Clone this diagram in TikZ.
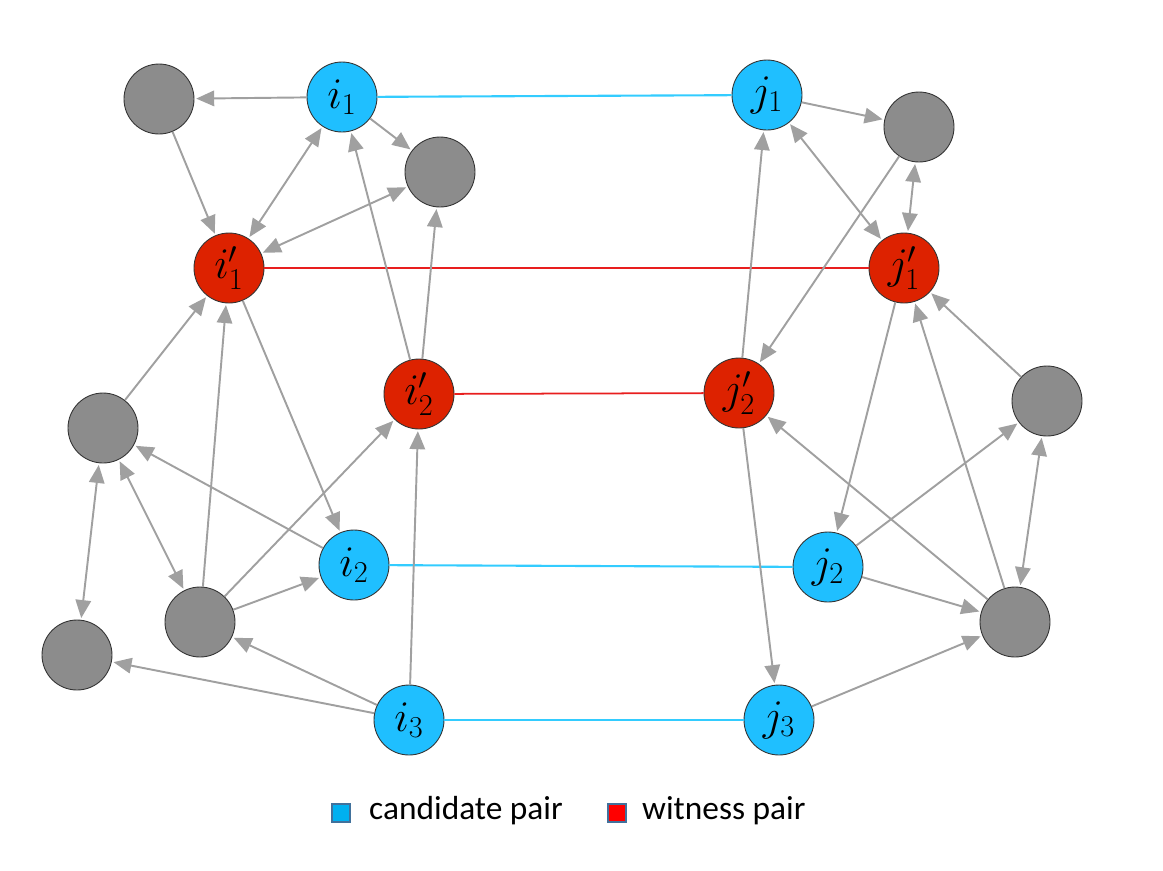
\documentclass[tikz,border=0pt]{standalone}
\usepackage{fontspec}
\setmainfont{Carlito}
\usetikzlibrary{arrows.meta}

\definecolor{candblue}{RGB}{31,191,255}
\definecolor{witred}{RGB}{221,34,0}
\definecolor{othergray}{RGB}{140,140,140}
\definecolor{edgegray}{RGB}{160,160,160}
\definecolor{pairblue}{RGB}{51,204,255}
\definecolor{pairred}{RGB}{232,30,30}
\definecolor{legblue}{RGB}{0,176,240}
\definecolor{legred}{RGB}{255,0,0}
\definecolor{legedge}{RGB}{65,113,156}

\begin{document}
\begin{tikzpicture}[x=0.02cm, y=-0.02cm,
  vert/.style={circle, draw=black!80, line width=0.5pt, minimum size=1.4cm, inner sep=0pt, font=\fontsize{23}{27}\selectfont},
  cand/.style={vert, fill=candblue},
  wit/.style={vert, fill=witred},
  other/.style={vert, fill=othergray},
  link/.style={draw=edgegray, line width=1.1pt, -{Triangle[length=0.36cm, width=0.31cm]}, shorten >=1pt},
  both/.style={link, {Triangle[length=0.36cm, width=0.31cm]}-{Triangle[length=0.36cm, width=0.31cm]}, shorten <=1pt},
  legbox/.style={draw=legedge, line width=1pt, minimum size=0.36cm, inner sep=0pt}]

\useasboundingbox (0, 0) rectangle (1163, 870);

% vertices
\node[cand] (i1) at (342, 97) {$i_1$};
\node[cand] (j1) at (767, 95) {$j_1$};
\node[wit] (i1p) at (229, 268) {$i'_1$};
\node[wit] (j1p) at (904, 268) {$j'_1$};
\node[wit] (i2p) at (419, 394) {$i'_2$};
\node[wit] (j2p) at (739, 393) {$j'_2$};
\node[cand] (i2) at (354, 565) {$i_2$};
\node[cand] (j2) at (828, 567) {$j_2$};
\node[cand] (i3) at (409, 720) {$i_3$};
\node[cand] (j3) at (779, 720) {$j_3$};

\node[other] (a1) at (159, 99) {};
\node[other] (a2) at (440, 172) {};
\node[other] (a3) at (103, 428) {};
\node[other] (a4) at (200, 622) {};
\node[other] (a5) at (77, 655) {};
\node[other] (b1) at (919, 127) {};
\node[other] (b2) at (1047, 401) {};
\node[other] (b3) at (1015, 622) {};

% pairs
\draw[pairblue, line width=1.2pt] (i1) -- (j1);
\draw[pairblue, line width=1.2pt] (i2) -- (j2);
\draw[pairblue, line width=1.2pt] (i3) -- (j3);
\draw[pairred, line width=1pt] (i1p) -- (j1p);
\draw[pairred, line width=1pt] (i2p) -- (j2p);

% left side
\draw[link] (i1) -- (a1);
\draw[link] (i1) -- (a2);
\draw[link] (a1) -- (i1p);
\draw[both] (i1) -- (i1p);
\draw[both] (a2) -- (i1p);
\draw[link] (i2p) -- (i1);
\draw[link] (i2p) -- (a2);
\draw[link] (i1p) -- (i2);
\draw[link] (a3) -- (i1p);
\draw[link] (a4) -- (i1p);
\draw[link] (a4) -- (i2p);
\draw[link] (i2) -- (a3);
\draw[both] (a3) -- (a4);
\draw[both] (a3) -- (a5);
\draw[link] (a4) -- (i2);
\draw[link] (i3) -- (a4);
\draw[link] (i3) -- (a5);
\draw[link] (i3) -- (i2p);

% right side
\draw[link] (j1) -- (b1);
\draw[both] (j1) -- (j1p);
\draw[both] (b1) -- (j1p);
\draw[link] (b1) -- (j2p);
\draw[link] (j2p) -- (j1);
\draw[link] (j1p) -- (j2);
\draw[link] (b2) -- (j1p);
\draw[link] (b3) -- (j1p);
\draw[link] (b3) -- (j2p);
\draw[link] (j2) -- (b2);
\draw[both] (b2) -- (b3);
\draw[link] (j2) -- (b3);
\draw[link] (j3) -- (b3);
\draw[link] (j2p) -- (j3);

% legend
\node[legbox, fill=legblue] (candbox) at (341, 813) {};
\node[anchor=west, font=\fontsize{19}{22}\selectfont] (candtext) at (363, 811) {candidate pair};
\node[legbox, fill=legred] (witbox) at (617, 813) {};
\node[anchor=west, font=\fontsize{19}{22}\selectfont] (wittext) at (636, 811) {witness pair};

\end{tikzpicture}
\end{document}
